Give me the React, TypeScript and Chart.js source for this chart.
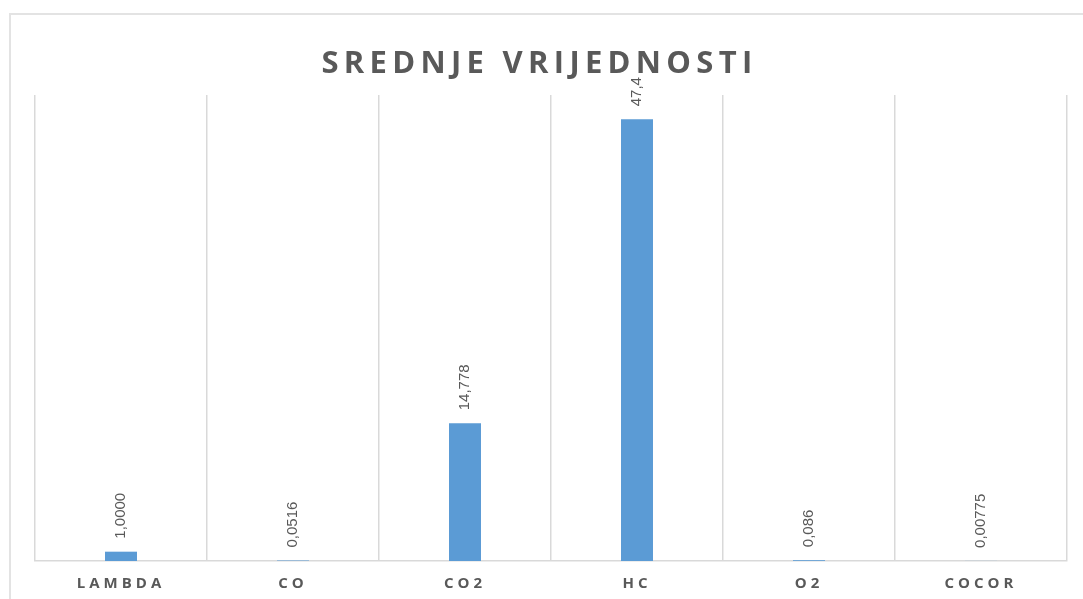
import React, { useEffect, useRef } from "react";
import { Chart, registerables } from "chart.js";

Chart.register(...registerables);

const categories: string[] = ["LAMBDA", "CO", "CO2", "HC", "O2", "COCOR"];
const values: number[] = [1.0, 0.0516, 14.778, 47.4, 0.086, 0.00775];
const valueLabels: string[] = ["1,0000", "0,0516", "14,778", "47,4", "0,086", "0,00775"];
const titleText = "SREDNJE VRIJEDNOSTI";

const spacingPlugin = {
  id: "spacingPlugin",
  beforeDraw(chart: any) {
    chart.ctx.letterSpacing = "4px";
  },
  beforeDatasetsDraw(chart: any) {
    chart.ctx.letterSpacing = "0px";
  },
};

const titlePlugin = {
  id: "titlePlugin",
  afterDraw(chart: any) {
    const ctx = chart.ctx;
    ctx.save();
    ctx.letterSpacing = "5.3px";
    ctx.font = "bold 31px 'Open Sans', sans-serif";
    ctx.fillStyle = "#595959";
    ctx.textAlign = "center";
    ctx.textBaseline = "alphabetic";
    ctx.fillText(titleText, chart.width / 2 - 2, 73);
    ctx.restore();
  },
};

const valueLabelPlugin = {
  id: "valueLabelPlugin",
  afterDatasetsDraw(chart: any) {
    const ctx = chart.ctx;
    const meta = chart.getDatasetMeta(0);
    ctx.save();
    ctx.letterSpacing = "0px";
    ctx.font = "15px 'Liberation Sans', Arial, sans-serif";
    ctx.fillStyle = "#595959";
    ctx.textAlign = "left";
    ctx.textBaseline = "middle";
    meta.data.forEach((bar: any, i: number) => {
      ctx.save();
      ctx.translate(bar.x, bar.y - 13);
      ctx.rotate(-Math.PI / 2);
      ctx.fillText(valueLabels[i], 0, 0);
      ctx.restore();
    });
    ctx.restore();
  },
};

export default function App() {
  const canvasRef = useRef<HTMLCanvasElement | null>(null);

  useEffect(() => {
    if (!canvasRef.current) return;
    const chart = new Chart(canvasRef.current, {
      type: "bar",
      data: {
        labels: categories,
        datasets: [
          {
            data: values,
            backgroundColor: "#5B9BD5",
            borderWidth: 0,
            barPercentage: 0.186,
            categoryPercentage: 1,
          },
        ],
      },
      options: {
        animation: false,
        responsive: true,
        maintainAspectRatio: false,
        layout: { padding: { left: 35, right: 16, top: 95, bottom: 7 } },
        plugins: {
          legend: { display: false },
          tooltip: { enabled: false },
          title: { display: false },
        },
        scales: {
          x: {
            afterFit(scale: any) {
              scale.height = 31;
            },
            grid: {
              display: true,
              offset: true,
              color: "#d9d9d9",
              lineWidth: 1.5,
              drawTicks: false,
            },
            border: { display: true, color: "#d9d9d9", width: 1.5 },
            ticks: {
              color: "#595959",
              padding: 14,
              font: { family: "'Open Sans', sans-serif", size: 15, weight: "bold" },
            },
          },
          y: {
            display: false,
            min: 0,
            max: 50,
          },
        },
      },
      plugins: [spacingPlugin, valueLabelPlugin, titlePlugin],
    });
    return () => chart.destroy();
  }, []);

  return (
    <div style={{ position: "fixed", left: 0, top: 0, width: "100vw", height: "100vh", overflow: "hidden", background: "#fff" }}>
      <div
        style={{
          position: "absolute",
          left: 9,
          top: 13,
          width: 2000,
          height: 2000,
          border: "2px solid #e3e3e3",
        }}
      />
      <div style={{ position: "absolute", left: 0, top: 0, width: "100%", height: "100%" }}>
        <canvas ref={canvasRef} />
      </div>
    </div>
  );
}
